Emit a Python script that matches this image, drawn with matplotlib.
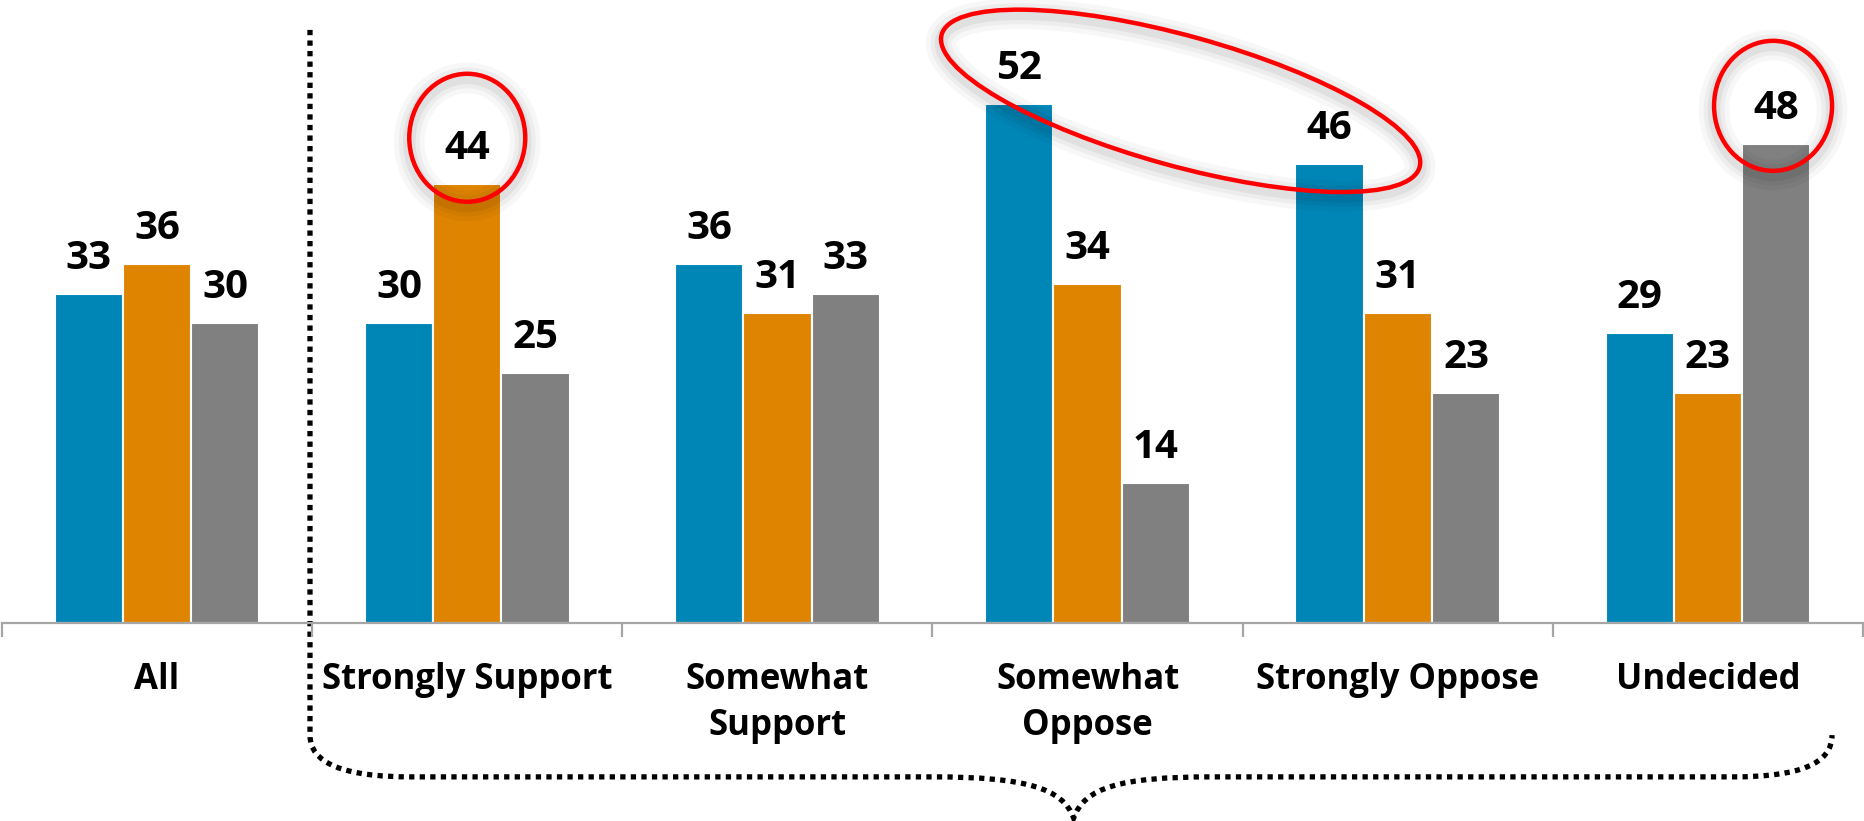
import matplotlib
matplotlib.use("Agg")
import matplotlib.pyplot as plt
import matplotlib.patheffects as pe
from matplotlib.patches import Ellipse, PathPatch
from matplotlib.path import Path
from matplotlib.transforms import ScaledTranslation, blended_transform_factory

# ==========================================
# DATA
# ==========================================
categories = ["All", "Strongly Support", "Somewhat\nSupport", "Somewhat\nOppose",
              "Strongly Oppose", "Undecided"]
series_blue = [33, 30, 36, 52, 46, 29]
series_orange = [36, 44, 31, 34, 31, 23]
series_gray = [30, 25, 33, 14, 23, 48]

colors = ["#0086B6", "#DF8400", "#808080"]

plt.rcParams["font.family"] = ["Open Sans", "DejaVu Sans"]

# ==========================================
# FIGURE
# ==========================================
fig = plt.figure(figsize=(18.65, 8.21), dpi=100)
ax = fig.add_axes([2 / 1865, 198 / 821, 1861 / 1865, 623 / 821])

width = 0.22
x = list(range(len(categories)))
for offset, values, color in zip([-width, 0, width],
                                 [series_blue, series_orange, series_gray], colors):
    xs = [i + offset for i in x]
    ax.bar(xs, values, width=width, color=color, edgecolor="white", linewidth=1.5)
    for xi, v in zip(xs, values):
        ax.annotate(str(v), (xi, v), xytext=(0, 18), textcoords="offset points",
                    ha="center", va="baseline", fontsize=29, fontweight="bold")

ax.set_xlim(-0.5, len(categories) - 0.5)
ax.set_ylim(0, 62.4)

# axis styling
for side in ["left", "right", "top"]:
    ax.spines[side].set_visible(False)
ax.spines["bottom"].set_color("#A6A6A6")
ax.spines["bottom"].set_linewidth(1.6)
ax.set_yticks([])
ax.set_xticks(x)
ax.set_xticklabels(categories, fontsize=25, fontweight="bold", linespacing=1.38)
ax.tick_params(axis="x", which="major", length=0, pad=28)
ax.set_xticks([i - 0.5 for i in range(len(categories) + 1)], minor=True)
ax.tick_params(axis="x", which="minor", length=10, width=1.6, color="#A6A6A6")

# ==========================================
# DOTTED DIVIDER + BRACE
# ==========================================
tr = blended_transform_factory(ax.transData, ax.transAxes)
verts = [
    (0.493, 0.952), (0.493, -0.180),
    (0.493, -0.225), (0.60, -0.247), (0.82, -0.247),
    (2.50, -0.247),
    (2.80, -0.247), (2.92, -0.265), (2.955, -0.313),
    (2.99, -0.265), (3.10, -0.247), (3.40, -0.247),
    (5.08, -0.247),
    (5.30, -0.247), (5.40, -0.225), (5.40, -0.180),
]
codes = ([Path.MOVETO, Path.LINETO] + [Path.CURVE4] * 3 + [Path.LINETO]
         + [Path.CURVE4] * 6 + [Path.LINETO] + [Path.CURVE4] * 3)
brace = PathPatch(Path(verts, codes), transform=tr, fill=False, edgecolor="black",
                  linewidth=3.8, linestyle=(0, (1, 1)), capstyle="butt", clip_on=False)
ax.add_patch(brace)

# ==========================================
# RED HIGHLIGHT ELLIPSES
# ==========================================
shadow = [pe.SimpleLineShadow(offset=(0, -3), shadow_color="black", alpha=a, linewidth=w)
          for a, w in [(0.03, 22), (0.04, 15), (0.05, 9)]] + [pe.Normal()]


def highlight(xd, yd, w_px, h_px, angle=0):
    t = fig.dpi_scale_trans + ScaledTranslation(xd, yd, ax.transData)
    e = Ellipse((0, 0), w_px / 100, h_px / 100, angle=angle, transform=t,
                fill=False, edgecolor="#FF0000", linewidth=3.2, clip_on=False)
    e.set_path_effects(shadow)
    ax.add_patch(e)


highlight(1.0, 48.6, 116, 128)
highlight(3.30, 52.3, 496, 130, angle=-15.5)
highlight(5.21, 51.8, 118, 130)

fig.savefig("out.png", dpi=100)
